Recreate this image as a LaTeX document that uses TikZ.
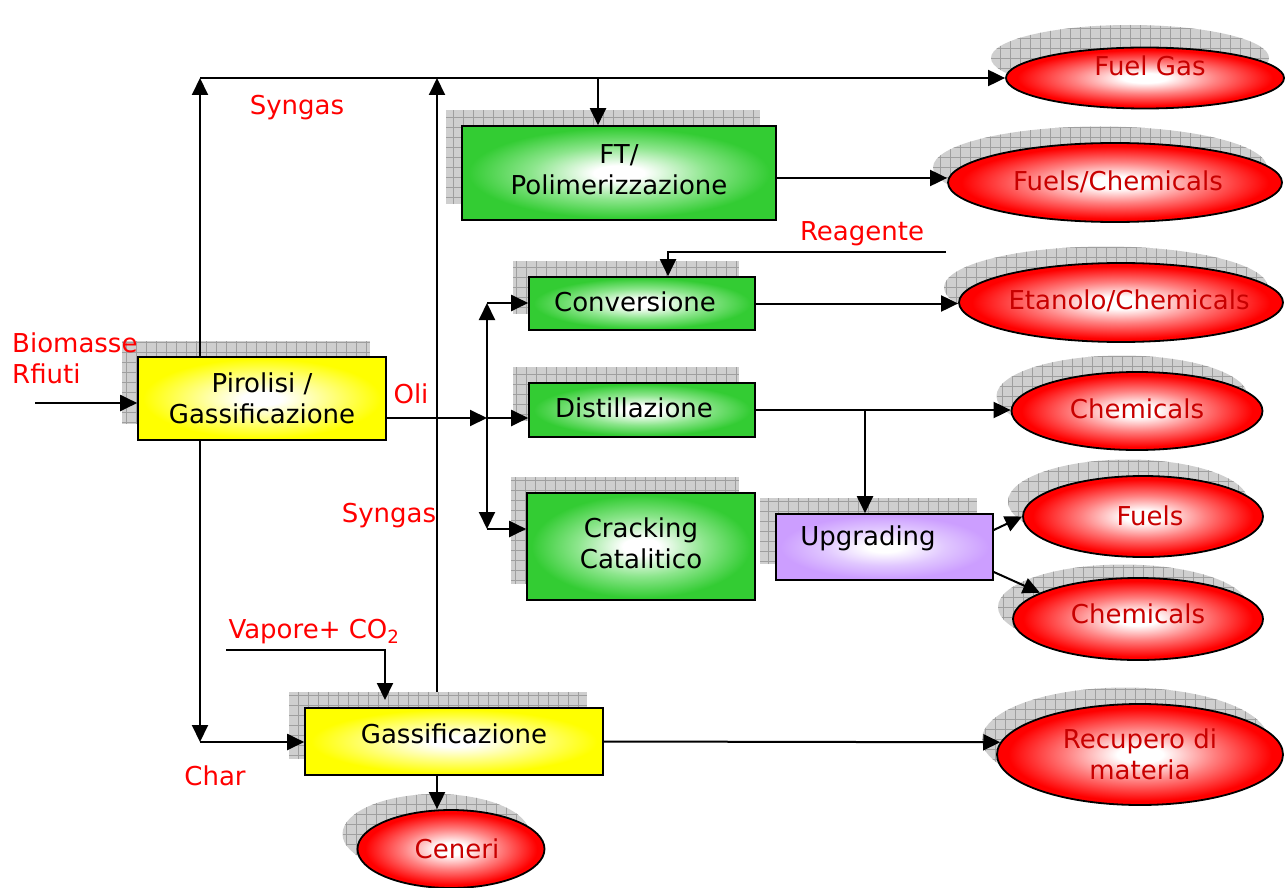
\documentclass[tikz,border=0pt]{standalone}
\usepackage{fontspec}
\setmainfont{DejaVu Sans}
\usetikzlibrary{arrows.meta,shapes.geometric}
\definecolor{lblred}{RGB}{255,0,0}
\definecolor{elltext}{RGB}{200,0,0}
\pgfdeclareradialshading{gglow}{\pgfpoint{0bp}{0bp}}{rgb(0bp)=(1,1,1);rgb(4bp)=(1,1,1);rgb(14bp)=(0.55,0.9,0.55);rgb(24bp)=(0.2,0.8,0.2);rgb(50bp)=(0.2,0.8,0.2)}
\pgfdeclareradialshading{yglow}{\pgfpoint{0bp}{0bp}}{rgb(0bp)=(1,1,1);rgb(4bp)=(1,1,1);rgb(14bp)=(1,1,0.5);rgb(24bp)=(1,1,0);rgb(50bp)=(1,1,0)}
\pgfdeclareradialshading{pglow}{\pgfpoint{0bp}{0bp}}{rgb(0bp)=(1,1,1);rgb(4bp)=(1,1,1);rgb(14bp)=(0.88,0.78,1);rgb(24bp)=(0.8,0.62,1);rgb(50bp)=(0.8,0.62,1)}
\pgfdeclareradialshading{rglow}{\pgfpoint{0bp}{0bp}}{rgb(0bp)=(1,1,1);rgb(4bp)=(1,1,1);rgb(13bp)=(1,0.5,0.5);rgb(23bp)=(1,0,0);rgb(50bp)=(1,0,0)}
\newcommand\etext[3]{\makebox[0pt]{\hspace*{#1}\hspace*{#1}\vphantom{#3}\smash{\raisebox{#2}{#3}}}}
\newcommand\btext[3]{\hspace*{#1}\hspace*{#1}\vphantom{#3}\smash{\raisebox{#2}{#3}}}
\tikzset{
  box/.style={draw=black, line width=1.6pt, rectangle, inner sep=0pt, align=center},
  ell/.style={draw=black, line width=1.8pt, ellipse, inner sep=0pt, text=elltext, shade, shading=rglow},
  shad/.style={fill=gray!38, draw=none, inner sep=0pt,
    path picture={\draw[gray!75, line width=0.6pt, step=10pt]
      (path picture bounding box.south west) grid (path picture bounding box.north east);}},
  lbl/.style={text=lblred, inner sep=0pt},
  conn/.style={line width=2pt},
  arr/.style={line width=2pt, -{Triangle[length=17pt,width=16pt]}},
}
\begin{document}
\begin{tikzpicture}[x=1pt, y=-1pt, font=\fontsize{26}{31}\selectfont]
\useasboundingbox (0,0) rectangle (1287,888);

% ---------- shadows
\node[shad, minimum width=314pt, minimum height=94pt] (ftS) at (603,157) {};
\node[shad, minimum width=248pt, minimum height=83pt] (pirS) at (246,382.5) {};
\node[shad, minimum width=226pt, minimum height=53pt] (convS) at (626,287.5) {};
\node[shad, minimum width=226pt, minimum height=54pt] (distS) at (626,394) {};
\node[shad, minimum width=228pt, minimum height=107pt] (crackS) at (625,530.5) {};
\node[shad, minimum width=217pt, minimum height=66pt] (upS) at (868.5,531) {};
\node[shad, minimum width=298pt, minimum height=67pt] (gasS) at (438,725.5) {};

\node[shad, ellipse, minimum width=278pt, minimum height=66pt] (fgS) at (1130,58) {};
\node[shad, ellipse, minimum width=334pt, minimum height=82pt] (fcS) at (1100,167.5) {};
\node[shad, ellipse, minimum width=324pt, minimum height=82pt] (etS) at (1106,287.5) {};
\node[shad, ellipse, minimum width=251pt, minimum height=81pt] (ch1S) at (1122,396) {};
\node[shad, ellipse, minimum width=240pt, minimum height=84pt] (fuS) at (1128,501.5) {};
\node[shad, ellipse, minimum width=250pt, minimum height=85pt] (ch2S) at (1123,607) {};
\node[shad, ellipse, minimum width=286pt, minimum height=104pt] (recS) at (1125,739.5) {};
\node[shad, ellipse, minimum width=187pt, minimum height=80pt] (cenS) at (436,834) {};

% ---------- boxes
\node[box, shade, shading=gglow, minimum width=314pt, minimum height=94pt] (ft) at (619,173)
  {\raisebox{5pt}{\begin{tabular}{@{}c@{}}FT/\\Polimerizzazione\end{tabular}}};
\node[box, shade, shading=yglow, minimum width=248pt, minimum height=83pt] (pir) at (262,398.5)
  {Pirolisi /\\Gassificazione};
\node[box, shade, shading=gglow, minimum width=226pt, minimum height=53pt] (conv) at (642,303.5)
  {\btext{-7pt}{2pt}{Conversione}};
\node[box, shade, shading=gglow, minimum width=226pt, minimum height=54pt] (dist) at (642,410)
  {\btext{-8pt}{2pt}{Distillazione}};
\node[box, shade, shading=gglow, minimum width=228pt, minimum height=107pt] (crack) at (641,546.5)
  {\raisebox{13pt}{\begin{tabular}{@{}c@{}}Cracking\\Catalitico\end{tabular}}};
\node[box, shade, shading=pglow, minimum width=217pt, minimum height=66pt] (up) at (884.5,547)
  {\btext{-16.5pt}{9pt}{Upgrading}};
\node[box, shade, shading=yglow, minimum width=298pt, minimum height=67pt] (gas) at (454,741.5)
  {\btext{0pt}{8pt}{Gassificazione}};

% ---------- ellipses
\node[ell, minimum width=278pt, minimum height=61pt] (fg) at (1145,78) {\etext{5pt}{12pt}{Fuel Gas}};
\node[ell, minimum width=334pt, minimum height=79pt] (fc) at (1115,182.5) {\etext{3pt}{1pt}{Fuels/Chemicals}};
\node[ell, minimum width=324pt, minimum height=79pt] (et) at (1121,302.5) {\etext{8pt}{2pt}{Etanolo/Chemicals}};
\node[ell, minimum width=251pt, minimum height=78pt] (ch1) at (1137,411) {\etext{0pt}{2pt}{Chemicals}};
\node[ell, minimum width=240pt, minimum height=81pt] (fu) at (1143,516.5) {\etext{7pt}{1pt}{Fuels}};
\node[ell, minimum width=250pt, minimum height=82pt] (ch2) at (1138,619) {\etext{0pt}{5pt}{Chemicals}};
\node[ell, minimum width=286pt, minimum height=101pt, align=center] (rec) at (1140,754.5) {Recupero di\\materia};
\node[ell, minimum width=187pt, minimum height=78pt] (cen) at (451,849) {\etext{6pt}{0pt}{Ceneri}};

% ---------- labels
\node[lbl] (lsyn1) at (297,108) {Syngas};
\node[lbl] (lreag) at (862,234) {Reagente};
\node[lbl] (loli) at (411,394) {Oli};
\node[lbl] (lsyn2) at (389,516) {Syngas};
\node[lbl] (lvap) at (314,632) {Vapore+ CO\textsubscript{2}};
\node[lbl] (lchar) at (215,776) {Char};
\node[lbl, align=left, anchor=west] (lbio) at (12,358) {Biomasse\\Rfiuti};

% ---------- coordinates
\coordinate (t1) at (200,78);
\coordinate (t2) at (437,78);
\coordinate (t3) at (598,78);
\coordinate (fte) at (776,178);
\coordinate (rg) at (946,252);
\coordinate (j) at (487,418);
\coordinate (jt) at (487,303);
\coordinate (jb) at (487,529);
\coordinate (ju) at (865,410);
\coordinate (cb) at (200,742);
\coordinate (va) at (226,650);
\coordinate (vb) at (385,700);
\coordinate (bi) at (35,403);

% ---------- connectors
\draw[arr] (pir.north -| t1) -- (t1);
\draw[arr] (t1) -- (fg.west);
\draw[arr] (gasS.north -| t2) -- (t2);
\draw[arr] (t3) -- (ft.north -| t3);
\draw[arr] (fte) -- (fte -| fc.west);
\draw[arr] (rg) -| ([xshift=26pt]conv.north);
\draw[arr] (conv.east) -- (conv.east -| et.west);
\draw[arr] (pir.east |- j) -- (j);
\draw[arr] (j) -- (j -| dist.west);
\draw[conn, {Triangle[length=17pt,width=16pt]}-{Triangle[length=17pt,width=16pt]}] (jt) -- (jb);
\draw[arr] (jt) -- (jt -| conv.west);
\draw[arr] (jb) -- (jb -| crack.west);
\draw[arr] (dist.east) -- (dist.east -| ch1.west);
\draw[arr] (ju) -- (ju |- up.north);
\draw[arr] ([yshift=17pt]up.east) -- (fu.west);
\draw[arr] ([yshift=-25pt]up.east) -- (ch2.165);
\draw[arr] (pir.south -| cb) -- (cb);
\draw[arr] (cb) -- (cb -| gas.west);
\draw[arr] (va) -| (vb);
\draw[arr] (gas.east) -- (rec.175);
\draw[arr] (gas.south -| t2) -- (t2 |- cen.north);
\draw[arr] (bi) -- (bi -| pir.west);
\end{tikzpicture}
\end{document}
